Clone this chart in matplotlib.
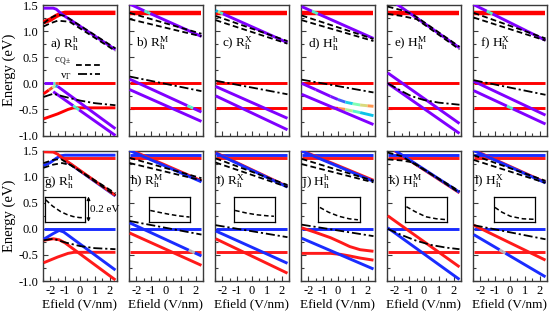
import numpy as np
import matplotlib
matplotlib.use('Agg')
import matplotlib.pyplot as plt
from matplotlib.collections import LineCollection
from matplotlib.colors import LinearSegmentedColormap
from matplotlib.ticker import MultipleLocator, FixedLocator, FixedFormatter

plt.rcParams['font.family'] = ['Liberation Serif', 'DejaVu Serif']
plt.rcParams['mathtext.fontset'] = 'custom'
plt.rcParams['mathtext.rm'] = 'Liberation Serif'
plt.rcParams['mathtext.it'] = 'Liberation Serif:italic'
plt.rcParams['mathtext.bf'] = 'Liberation Serif:bold'

# ---------------- data (x = Efield in V/nm, E = energy in eV, w = layer weight) ----------------
TOP_LABELS = [r'a) R$_\mathrm{h}^\mathrm{h}$', r'b) R$_\mathrm{h}^\mathrm{M}$', r'c) R$_\mathrm{h}^\mathrm{X}$',
              r'd) H$_\mathrm{h}^\mathrm{h}$', r'e) H$_\mathrm{h}^\mathrm{M}$', r'f) H$_\mathrm{h}^\mathrm{X}$']
BOT_LABELS = [r'g) R$_\mathrm{h}^\mathrm{h}$', r'h) R$_\mathrm{h}^\mathrm{M}$', r'i) R$_\mathrm{h}^\mathrm{X}$',
              r'j) H$_\mathrm{h}^\mathrm{h}$', r'k) H$_\mathrm{h}^\mathrm{M}$', r'l) H$_\mathrm{h}^\mathrm{X}$']
XTICKS = [-2, -1, 0, 1, 2]
XTICK_LABELS = ['-2', '-1', '0', '1', '2']
YTICKS = [-1.0, -0.5, 0.0, 0.5, 1.0, 1.5]
YTICK_LABELS = ['-1.0', '-0.5', '0.0', '0.5', '1.0', '1.5']

# top row: w=1 red, w=0 purple
A_LINES = [
    ([-2.45, -2.0, -1.6, -1.3, -1.0, 2.4], [1.17, 1.22, 1.29, 1.33, 1.35, 1.35], [1, 1, 1, 1, 1, 1]),
    ([-2.45, -1.8, -1.6, -1.4, -1.2, 2.4], [1.44, 1.44, 1.42, 1.37, 1.32, 0.645], [0, 0, 0, 0, 0, 0]),
    ([-2.45, -1.5, -0.8, -0.45, 2.4], [-0.68, -0.585, -0.5, -0.47, -0.47], [1, 1, 1, 1, 1]),
    ([-2.45, -1.8, -1.65, -1.5, 2.4], [0, 0, 0, 0, 0], [0, 0, 0.8, 1, 1]),
    ([-2.45, -2.1, -1.85, -1.65, -1.5, 2.4], [-0.2, -0.13, -0.08, -0.05, -0.06, -0.87], [1, 1, 0.8, 0.4, 0, 0]),
    ([-1.8, -0.45, -0.25, -0.05, 2.4], [-0.16, -0.43, -0.47, -0.51, -1.0], [0, 0, 0.8, 0, 0]),
]
A_DASH = [([-2.45, -2.0, -1.5, -1.0, 2.4], [1.15, 1.25, 1.32, 1.29, 0.67]),
          ([-2.45, -2.0, -1.5, -0.7, 2.4], [1.09, 1.15, 1.20, 1.18, 0.62])]
A_DASHDOT = ([-2.45, -1.8, -1.0, 0, 1, 2.4], [-0.26, -0.2, -0.26, -0.33, -0.38, -0.42])

B_LINES = [
    ([-2.45, 2.4], [1.35, 1.35], [1, 1]),
    ([-2.45, -1.45, -1.25, -1.05, 2.4], [1.52, 1.387, 1.361, 1.336, 0.898], [0, 0, 0.8, 0, 0]),
    ([-2.45, 2.4], [0, 0], [1, 1]),
    ([-2.45, 2.4], [-0.47, -0.47], [1, 1]),
    ([-2.45, 1.45, 1.65, 1.85, 2.4], [0.08, -0.428, -0.453, -0.479, -0.55], [0, 0, 0.8, 0, 0]),
    ([-2.45, 2.4], [-0.12, -0.73], [0, 0]),
]
B_DASH = [([-2.45, 2.4], [1.35, 0.95]), ([-2.45, 2.4], [1.23, 0.90])]
B_DASHDOT = ([-2.45, 2.4], [0.13, -0.15])

C_LINES = [
    ([-2.45, 2.4], [1.35, 1.35], [1, 1]),
    ([-2.45, -2.3, -2.15, -1.95, 2.4], [1.393, 1.374, 1.355, 1.330, 0.78], [0, 0.5, 0.8, 0, 0]),
    ([-2.45, 2.4], [0, 0], [1, 1]),
    ([-2.45, 2.4], [-0.47, -0.47], [1, 1]),
    ([-2.45, 2.4], [-0.06, -0.67], [0, 0]),
    ([-2.45, 2.4], [-0.24, -0.89], [0, 0]),
]
C_DASH = [([-2.45, 2.4], [1.29, 0.81]), ([-2.45, 2.4], [1.21, 0.76])]
C_DASHDOT = ([-2.45, 2.4], [0.05, -0.21])

D_LINES = [
    ([-2.45, 2.4], [1.35, 1.35], [1, 1]),
    ([-2.45, -1.75, -1.55, -1.35, 2.4], [1.47, 1.382, 1.357, 1.332, 0.86], [0, 0, 0.8, 0, 0]),
    ([-2.45, 2.4], [0, 0], [1, 1]),
    ([-2.45, -0.5, 0.0, 0.5, 1.0, 1.5, 2.4], [-0.47, -0.47, -0.48, -0.5, -0.53, -0.56, -0.62], [1, 1, 0.9, 0.7, 0.5, 0.35, 0.2]),
    ([-2.45, -1.5, -0.5, 0.0, 0.5, 1.0, 1.5, 2.0, 2.4], [0, -0.12, -0.25, -0.31, -0.36, -0.39, -0.415, -0.43, -0.44],
     [0, 0, 0, 0.05, 0.2, 0.4, 0.6, 0.75, 0.85]),
    ([-2.45, 2.4], [-0.21, -0.79], [0, 0]),
]
D_DASH = [([-2.45, 2.4], [1.30, 0.85]), ([-2.45, 2.4], [1.21, 0.81])]
D_DASHDOT = ([-2.45, 2.4], [0.07, -0.175])

E_LINES = [
    ([-2.45, 2.4], [1.35, 1.35], [1, 1]),
    ([-1.85, 2.4], [1.52, 0.68], [0, 0]),
    ([-2.45, 2.4], [0, 0], [1, 1]),
    ([-2.45, 2.4], [-0.47, -0.47], [1, 1]),
    ([-2.45, 2.4], [0.2, -0.77], [0, 0]),
    ([-2.45, 2.4], [0.0, -0.96], [0, 0]),
]
E_DASH = [([-2.45, -1.5, -0.75, 2.4], [1.47, 1.40, 1.32, 0.70]),
          ([-2.45, -1.5, -0.5, 2.4], [1.33, 1.29, 1.23, 0.65])]
E_DASHDOT = ([-2.45, -1.5, -0.9, 0, 1, 2.4], [0.0, -0.15, -0.24, -0.32, -0.37, -0.41])

F_LINES = [
    ([-2.45, 2.4], [1.35, 1.35], [1, 1]),
    ([-2.45, -1.57, -1.37, -1.17, 2.4], [1.508, 1.384, 1.356, 1.328, 0.824], [0, 0, 0.8, 0, 0]),
    ([-2.45, 2.4], [0, 0], [1, 1]),
    ([-2.45, 2.4], [-0.47, -0.47], [1, 1]),
    ([-2.45, 2.4], [0.04, -0.61], [0, 0]),
    ([-2.45, -0.2, 0.0, 0.2, 2.4], [-0.14, -0.437, -0.463, -0.49, -0.78], [0, 0, 0.8, 0, 0]),
]
F_DASH = [([-2.45, 2.4], [1.35, 0.86]), ([-2.45, 2.4], [1.26, 0.82])]
F_DASHDOT = ([-2.45, 2.4], [0.06, -0.22])

# bottom row: w=1 red, w=0 blue
G_LINES = [
    ([-1.3, 2.4], [1.355, 1.355], [1, 1]),
    ([-2.45, -2.0, -1.6, -1.3, -1.0, 2.4], [1.21, 1.27, 1.35, 1.40, 1.41, 1.41], [0, 0, 0, 0, 0, 0]),
    ([-1.3, 2.4], [1.37, 0.63], [0, 0]),
    ([-2.45, -1.8, -1.5, -1.2, 2.4], [1.475, 1.47, 1.43, 1.36, 0.64], [1, 1, 1, 1, 1]),
    ([-2.45, 2.4], [0, 0], [0, 0]),
    ([-2.45, -1.5, -0.8, -0.4, 2.4], [-0.65, -0.54, -0.47, -0.45, -0.45], [1, 1, 1, 1, 1]),
    ([-2.45, -1.8, -1.4, -1.0, 2.4], [-0.22, -0.19, -0.21, -0.27, -0.98], [1, 1, 1, 1, 1]),
    ([-2.45, -1.8, -1.4, -1.1, 2.4], [-0.2, -0.09, -0.03, -0.06, -0.79], [0, 0, 0, 0, 0]),
]
G_DASH = [([-2.45, -1.8, -1.3, 2.4], [1.26, 1.32, 1.34, 0.68]),
          ([-2.45, -1.8, -1.2, -0.6, 2.4], [1.17, 1.23, 1.26, 1.22, 0.64])]
G_DASHDOT = ([-2.45, -1.8, -1.0, 0, 1, 2.4], [-0.22, -0.19, -0.26, -0.33, -0.37, -0.39])

H_LINES = [
    ([-2.45, 2.4], [1.355, 1.355], [1, 1]),
    ([-2.45, 2.4], [1.41, 1.41], [0, 0]),
    ([-2.45, 2.4], [1.52, 0.92], [1, 1]),
    ([-2.45, 2.4], [1.50, 0.90], [0, 0]),
    ([-2.45, 2.4], [0, 0], [0, 0]),
    ([-2.45, 2.4], [-0.45, -0.45], [1, 1]),
    ([-2.45, 2.4], [-0.08, -0.70], [1, 1]),
    ([-2.45, 1.55, 1.75, 1.95, 2.4], [0.115, -0.409, -0.435, -0.461, -0.52], [0, 0, 1, 0, 0]),
]
H_DASH = [([-2.45, 2.4], [1.36, 0.97]), ([-2.45, 2.4], [1.26, 0.93])]
H_DASHDOT = ([-2.45, 2.4], [0.15, -0.11])

I_LINES = [
    ([-2.45, 2.4], [1.355, 1.355], [1, 1]),
    ([-2.45, 2.4], [1.41, 1.41], [0, 0]),
    ([-2.45, 2.4], [1.46, 0.81], [1, 1]),
    ([-2.45, 2.4], [1.45, 0.80], [0, 0]),
    ([-2.45, 2.4], [0, 0], [0, 0]),
    ([-2.45, 2.4], [-0.45, -0.45], [1, 1]),
    ([-2.45, 2.4], [-0.19, -0.85], [1, 1]),
    ([-2.45, 2.4], [-0.04, -0.66], [0, 0]),
]
I_DASH = [([-2.45, 2.4], [1.35, 0.84]), ([-2.45, 2.4], [1.27, 0.80])]
I_DASHDOT = ([-2.45, 2.4], [0.07, -0.16])

J_LINES = [
    ([-2.45, 2.4], [1.355, 1.355], [1, 1]),
    ([-2.45, 2.4], [1.41, 1.41], [0, 0]),
    ([-2.45, 2.4], [1.50, 0.93], [1, 1]),
    ([-2.45, 2.4], [1.49, 0.91], [0, 0]),
    ([-2.45, 2.4], [0, 0], [0, 0]),
    ([-2.45, -1.5, -0.5, 0.2, 0.8, 1.5, 2.4], [0.02, -0.07, -0.17, -0.26, -0.34, -0.40, -0.43], [1, 1, 1, 1, 1, 1, 1]),
    ([-2.45, -0.5, 0.2, 0.8, 1.5, 2.4], [-0.47, -0.47, -0.49, -0.52, -0.56, -0.6], [1, 1, 1, 1, 1, 1]),
    ([-2.45, 2.4], [-0.18, -0.77], [0, 0]),
]
J_DASH = [([-2.45, 2.4], [1.34, 0.92]), ([-2.45, 2.4], [1.24, 0.89])]
J_DASHDOT = ([-2.45, 2.4], [0.08, -0.14])

K_LINES = [
    ([-2.45, 2.4], [1.355, 1.355], [1, 1]),
    ([-2.45, 2.4], [1.41, 1.41], [0, 0]),
    ([-2.0, 2.4], [1.5, 0.69], [1, 1]),
    ([-1.95, 2.4], [1.5, 0.70], [0, 0]),
    ([-2.45, 2.4], [0, 0], [0, 0]),
    ([-2.45, 2.4], [-0.45, -0.45], [1, 1]),
    ([-2.45, 2.4], [0.25, -0.73], [1, 1]),
    ([-2.45, 2.4], [0.02, -0.97], [0, 0]),
]
K_DASH = [([-2.45, -2.0, -1.5, 2.4], [1.46, 1.43, 1.39, 0.72]),
          ([-2.45, -1.5, -0.7, 2.4], [1.33, 1.31, 1.27, 0.69])]
K_DASHDOT = ([-2.45, -1.5, -0.5, 0.5, 1.5, 2.4], [0.0, -0.12, -0.23, -0.31, -0.36, -0.39])

L_LINES = [
    ([-2.45, 2.4], [1.355, 1.355], [1, 1]),
    ([-2.45, 2.4], [1.41, 1.41], [0, 0]),
    ([-2.45, 2.4], [1.51, 0.89], [1, 1]),
    ([-2.45, 2.4], [1.50, 0.88], [0, 0]),
    ([-2.45, 2.4], [0, 0], [0, 0]),
    ([-2.45, 2.4], [-0.45, -0.45], [1, 1]),
    ([-2.45, 2.4], [0.07, -0.6], [1, 1]),
    ([-2.45, -0.7, -0.5, -0.3, 2.4], [-0.11, -0.402, -0.436, -0.469, -0.92], [0, 0, 1, 0, 0]),
]
L_DASH = [([-2.45, 2.4], [1.41, 0.92]), ([-2.45, 2.4], [1.32, 0.88])]
L_DASHDOT = ([-2.45, 2.4], [0.07, -0.2])

# insets (bottom row): dashed curve in normalized box units
INSET_CURVES = [
    ([0.03, 0.2, 0.4, 0.55, 0.7, 0.85, 0.97], [0.87, 0.62, 0.40, 0.29, 0.21, 0.17, 0.16]),
    ([0.04, 0.3, 0.52, 0.75, 0.98], [0.45, 0.36, 0.29, 0.23, 0.19]),
    ([0.03, 0.3, 0.55, 0.8, 0.97], [0.45, 0.35, 0.28, 0.24, 0.22]),
    ([0.04, 0.25, 0.5, 0.75, 0.96], [0.57, 0.38, 0.22, 0.12, 0.08]),
    ([0.04, 0.25, 0.5, 0.75, 0.96], [0.60, 0.40, 0.20, 0.12, 0.09]),
    ([0.03, 0.2, 0.4, 0.7, 0.97], [0.57, 0.38, 0.22, 0.12, 0.10]),
]
INSET_SCALE = '0.2 eV'

TOP_DATA = [(A_LINES, A_DASH, A_DASHDOT), (B_LINES, B_DASH, B_DASHDOT), (C_LINES, C_DASH, C_DASHDOT),
            (D_LINES, D_DASH, D_DASHDOT), (E_LINES, E_DASH, E_DASHDOT), (F_LINES, F_DASH, F_DASHDOT)]
BOT_DATA = [(G_LINES, G_DASH, G_DASHDOT), (H_LINES, H_DASH, H_DASHDOT), (I_LINES, I_DASH, I_DASHDOT),
            (J_LINES, J_DASH, J_DASHDOT), (K_LINES, K_DASH, K_DASHDOT), (L_LINES, L_DASH, L_DASHDOT)]

# ---------------- layout / styles ----------------
INSET_X = [(-2.39, 0.36), (-1.17, 1.65), (-1.22, 1.57), (-1.33, 1.46), (-1.30, 1.56), (-1.10, 1.72)]
INSET_Y = (0.134, 0.618)

CMAP_TOP = plt.get_cmap('rainbow')
CMAP_BOT = LinearSegmentedColormap.from_list('br', ['#1a2cff', '#b8b8c0', '#ff1a1a'])
SPINE = '#3a3a3a'
DASH = (3.2, 1.8)
DASHDOT = (5.0, 1.6, 1.2, 1.6)


def draw_line(ax, x, E, w, cmap, lw, z):
    x = np.asarray(x, float)
    E = np.asarray(E, float)
    w = np.asarray(w, float)
    if np.all(w == w[0]):
        ax.plot(x, E, color=cmap(w[0]), lw=lw, solid_capstyle='butt', zorder=z)
    else:
        pts = np.column_stack([x, E])
        segs = np.stack([pts[:-1], pts[1:]], axis=1)
        cols = cmap(0.5 * (w[:-1] + w[1:]))
        lc = LineCollection(segs, colors=cols, linewidths=lw, capstyle='butt', joinstyle='round', zorder=z)
        ax.add_collection(lc)


fig = plt.figure(figsize=(5.5, 3.14), dpi=100)
gs = fig.add_gridspec(2, 6, left=0.078, right=0.9945, top=0.984, bottom=0.105, wspace=0.162, hspace=0.115)

for row in range(2):
    for col in range(6):
        ax = fig.add_subplot(gs[row, col])
        lines, dashes, dashdot = (TOP_DATA if row == 0 else BOT_DATA)[col]
        cmap = CMAP_TOP if row == 0 else CMAP_BOT
        for (x, E, w) in lines:
            thick = row == 0 and min(w) == 1 and max(E) > 1.0
            draw_line(ax, x, E, w, cmap, 3.2 if thick else 2.1, 3)
        for (x, E) in dashes:
            ax.plot(x, E, color='k', lw=1.3, dashes=DASH, zorder=5)
        ax.plot(dashdot[0], dashdot[1], color='k', lw=1.3, dashes=DASHDOT, zorder=5)

        ax.set_xlim(-2.5, 2.5)
        ax.set_ylim(-1.0, 1.5)
        ax.xaxis.set_major_locator(FixedLocator(XTICKS))
        ax.xaxis.set_minor_locator(MultipleLocator(0.5))
        ax.yaxis.set_major_locator(FixedLocator(YTICKS))
        ax.yaxis.set_minor_locator(MultipleLocator(0.25))
        ax.tick_params(which='both', direction='in', top=False, right=False, color=SPINE,
                       labelsize=9, pad=3)
        ax.tick_params(which='major', length=3.5, width=0.8)
        ax.tick_params(which='minor', length=2.2, width=0.8)
        for s in ax.spines.values():
            s.set_color(SPINE)
            s.set_linewidth(1.0)

        if row == 0:
            ax.set_xticklabels([])
        else:
            ax.xaxis.set_major_formatter(FixedFormatter(XTICK_LABELS))
            ax.set_xlabel('Efield (V/nm)', fontsize=9.5, labelpad=1)
        if col == 0:
            ax.yaxis.set_major_formatter(FixedFormatter(YTICK_LABELS))
            ax.set_ylabel('Energy (eV)', fontsize=10.5, labelpad=2)
        else:
            ax.set_yticklabels([])

        if row == 0:
            ax.text(-2.0, 0.76, TOP_LABELS[col], fontsize=9.5, va='center', ha='left', zorder=6)
        else:
            ax.text(-2.42, 0.90, BOT_LABELS[col], fontsize=9.5, va='center', ha='left', zorder=6)
            x0, x1 = INSET_X[col]
            y0, y1 = INSET_Y
            iax = ax.inset_axes([x0, y0, x1 - x0, y1 - y0], transform=ax.transData, zorder=6)
            cx, cy = INSET_CURVES[col]
            iax.plot(cx, cy, color='k', lw=1.1, dashes=(3.0, 1.8))
            iax.set_xlim(0, 1)
            iax.set_ylim(0, 1)
            iax.set_xticks([])
            iax.set_yticks([])
            for s in iax.spines.values():
                s.set_color('k')
                s.set_linewidth(0.9)
            if col == 0:
                ax.annotate('', xy=(0.58, y1), xytext=(0.58, y0),
                            arrowprops=dict(arrowstyle='<|-|>', lw=0.8, color='k', shrinkA=0, shrinkB=0,
                                            mutation_scale=5))
                ax.text(0.70, 0.37, INSET_SCALE, fontsize=8, va='center', ha='left')

        if row == 0 and col == 0:
            ax.text(-1.75, 0.40, r'c$_{\mathrm{Q\pm}}$', fontsize=8, va='center', ha='left', zorder=6)
            ax.plot([-0.25, 1.35], [0.35, 0.35], color='k', lw=1.3, dashes=DASH, zorder=6)
            ax.text(-1.35, 0.13, r'v$_{\Gamma}$', fontsize=8, va='center', ha='left', zorder=6)
            ax.plot([-0.1, 1.35], [0.17, 0.17], color='k', lw=1.3, dashes=DASHDOT, zorder=6)

fig.savefig('out.png', dpi=100)
